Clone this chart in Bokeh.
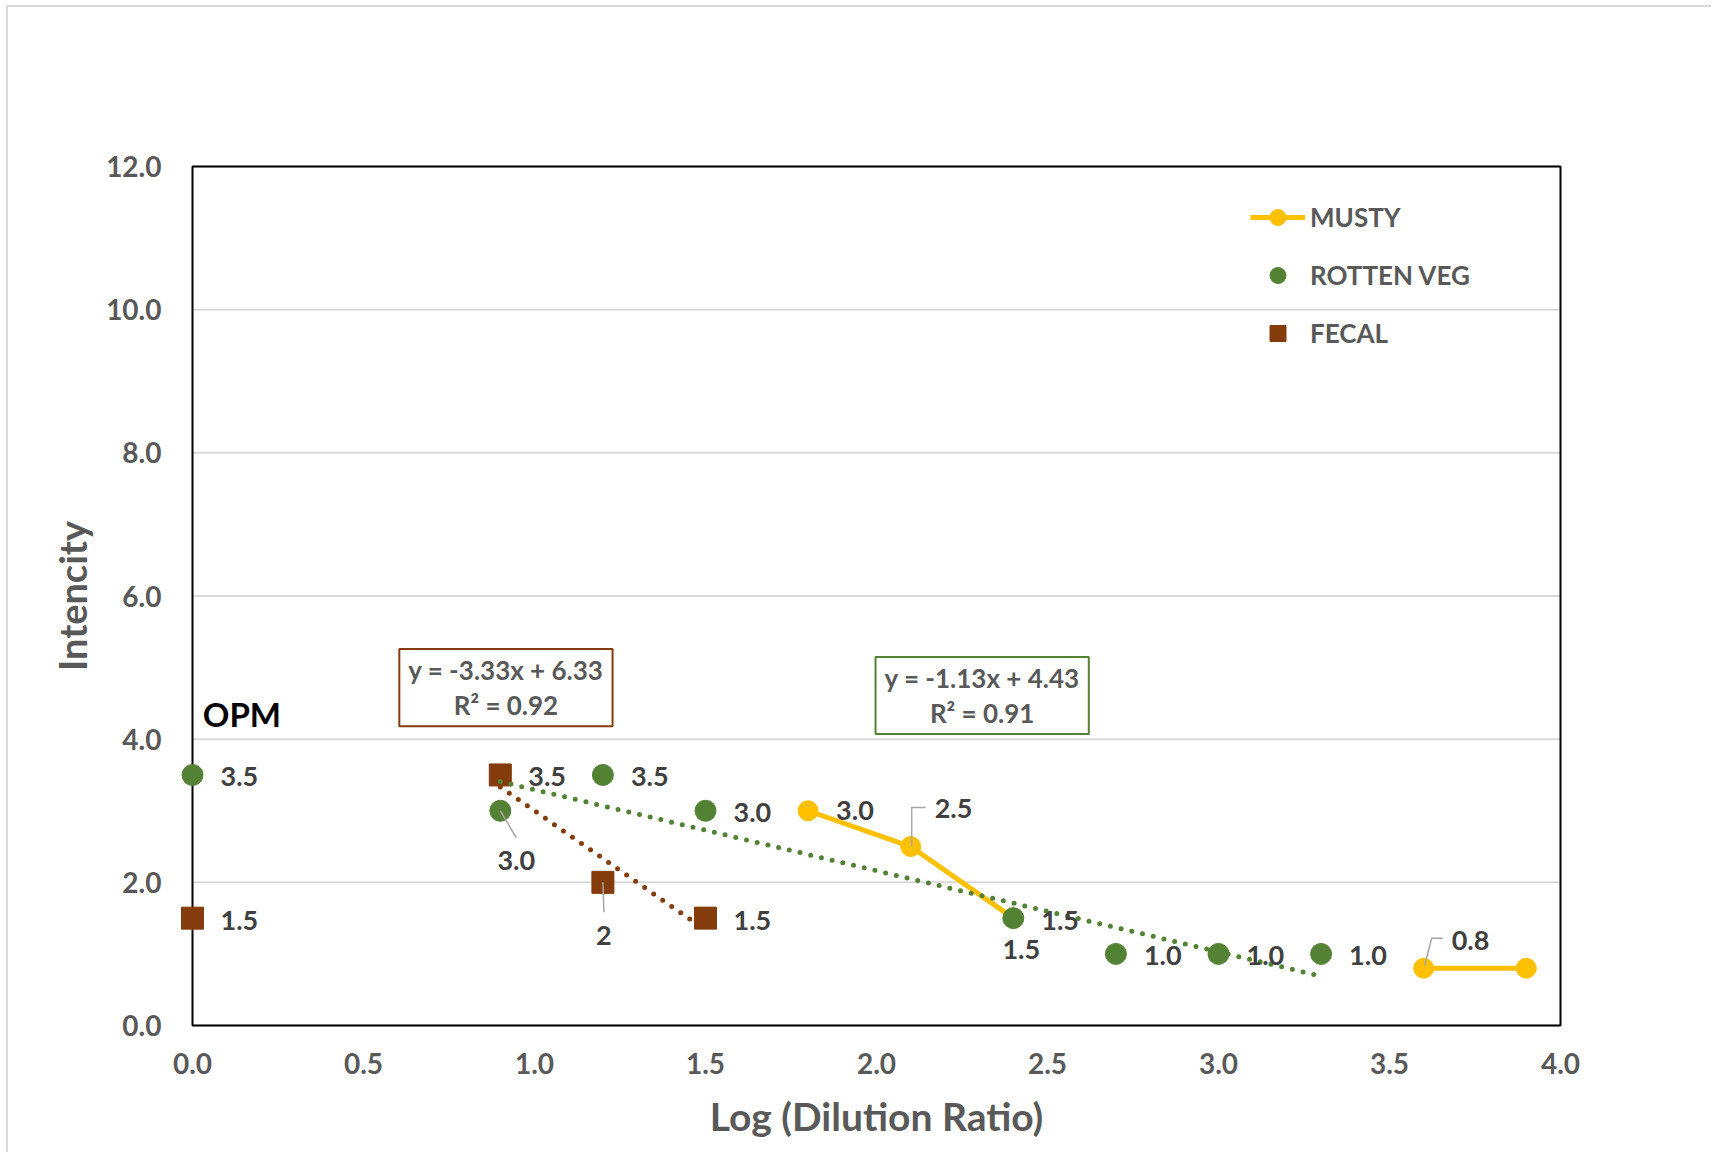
import numpy as np
from bokeh.plotting import figure
from bokeh.models import (Range1d, Legend, LegendItem, Label, ColumnDataSource,
                          FixedTicker, NumeralTickFormatter)
from bokeh.core.properties import value
from bokeh.embed import file_html
from bokeh.resources import INLINE

# ---------------- data ----------------
x_ticks = [0.0, 0.5, 1.0, 1.5, 2.0, 2.5, 3.0, 3.5, 4.0]
y_ticks = [0.0, 2.0, 4.0, 6.0, 8.0, 10.0, 12.0]

musty_x = [1.8, 2.1, 2.4, np.nan, 3.6, 3.9]
musty_y = [3.0, 2.5, 1.5, np.nan, 0.8, 0.8]
musty_labels = ["3.0", "2.5", "1.5", "", "0.8", ""]

rotten_x = [0.0, 0.9, 1.2, 1.5, 2.4, 2.7, 3.0, 3.3]
rotten_y = [3.5, 3.0, 3.5, 3.0, 1.5, 1.0, 1.0, 1.0]
rotten_labels = ["3.5", "3.0", "3.5", "3.0", "1.5", "1.0", "1.0", "1.0"]

fecal_x = [0.0, 0.9, 1.2, 1.5]
fecal_y = [1.5, 3.5, 2.0, 1.5]
fecal_labels = ["1.5", "3.5", "2", "1.5"]

series_names = ["MUSTY", "ROTTEN VEG", "FECAL"]
axis_x_title = "Log (Dilution Ratio)"
axis_y_title = "Intencity"
note_text = "OPM"

# ---------------- style ----------------
GOLD = "#FFC000"
GREEN = "#548235"
BROWN = "#843C0C"
GRAY_TXT = "#595959"
LBL_TXT = "#404040"
FONT = "Lato"

W, H = 1705, 1147
ML, MT, MR, MB = 184, 159, 153, 129      # edges of the drawn chart box
FW, FH = W - ML - MR, H - MT - MB
XR, YR = (0, 4), (0, 12)
PX_X = FW / (XR[1] - XR[0])
PX_Y = FH / (YR[1] - YR[0])
PADX, PADY = 15, 2                        # extra frame so edge markers are not clipped

p = figure(width=W, height=H, output_backend="svg", toolbar_location=None,
           x_range=Range1d(XR[0] - PADX / PX_X, XR[1] + PADX / PX_X),
           y_range=Range1d(YR[0] - PADY / PX_Y, YR[1] + PADY / PX_Y),
           min_border_left=ML - PADX, min_border_right=MR - PADX,
           min_border_top=MT - PADY, min_border_bottom=MB - PADY,
           background_fill_color="white", border_fill_color="white")
p.styles = {"margin-left": "6px", "margin-top": "5px",
            "border-left": "2px solid #d9d9d9", "border-top": "2px solid #d9d9d9"}

p.outline_line_color = None
p.xgrid.visible = False
p.ygrid.visible = False

for ax, ticks in ((p.xaxis[0], x_ticks), (p.yaxis[0], y_ticks)):
    ax.ticker = FixedTicker(ticks=ticks)
    ax.formatter = NumeralTickFormatter(format="0.0")
    ax.major_tick_line_color = None
    ax.minor_tick_line_color = None
    ax.axis_line_color = None
    ax.major_label_text_font = FONT
    ax.major_label_text_font_style = "bold"
    ax.major_label_text_color = GRAY_TXT
    ax.major_label_text_font_size = "28px"
    ax.axis_label_text_font = FONT
    ax.axis_label_text_font_style = "bold"
    ax.axis_label_text_color = GRAY_TXT

p.xaxis.axis_label = axis_x_title
p.xaxis.axis_label_text_font_size = "39px"
p.xaxis.major_label_standoff = 21 - PADY
p.xaxis.axis_label_standoff = 16
p.yaxis.axis_label = axis_y_title
p.yaxis.axis_label_text_font_size = "38px"
p.yaxis.major_label_standoff = 25 - PADX
p.yaxis.axis_label_standoff = 8

# horizontal gridlines restricted to the chart box
p.segment(x0=[XR[0]] * len(y_ticks), x1=[XR[1]] * len(y_ticks), y0=y_ticks, y1=y_ticks,
          line_color="#d9d9d9", line_width=2)

# chart box
p.quad(left=[XR[0]], right=[XR[1]], bottom=[YR[0]], top=[YR[1]],
       fill_color=None, line_color="black", line_width=2)

# ---------------- series ----------------
m_line = p.line(musty_x, musty_y, line_color=GOLD, line_width=5)
m_pts = p.scatter(musty_x, musty_y, marker="circle", size=20, fill_color=GOLD, line_color=GOLD)
r_pts = p.scatter(rotten_x, rotten_y, marker="circle", size=21, fill_color=GREEN, line_color=GREEN)
f_pts = p.scatter(fecal_x, fecal_y, marker="square", size=22, fill_color=BROWN, line_color=BROWN)

# ---------------- trendlines ----------------
def trend(xs, ys):
    xs = np.asarray(xs[1:], dtype=float)
    ys = np.asarray(ys[1:], dtype=float)
    m, b = np.polyfit(xs, ys, 1)
    r2 = 1 - np.sum((ys - (m * xs + b)) ** 2) / np.sum((ys - ys.mean()) ** 2)
    xx = np.array([xs.min(), xs.max()])
    return xx, m * xx + b, m, b, r2

fx, fy, fm, fb, fr2 = trend(fecal_x, fecal_y)
rx, ry, rm, rb, rr2 = trend(rotten_x, rotten_y)
p.line(fx, fy, line_color=BROWN, line_width=5, line_dash="0 11", line_cap="round")
p.line(rx, ry, line_color=GREEN, line_width=5, line_dash="0 11", line_cap="round")

def eq_text(m, b, r2):
    sign = "+" if b >= 0 else "-"
    return f"y = {m:.2f}x {sign} {abs(b):.2f}\nR\u00b2 = {r2:.2f}"

eq_style = dict(text_font=FONT, text_font_style="bold", text_font_size="26px",
                text_color=GRAY_TXT, text_align="center", text_baseline="middle",
                background_fill_color="white", border_line_width=2,
                padding=dict(left=9, right=9, top=5, bottom=5),
                text_line_height=1.1)
p.add_layout(Label(x=0.9165, y=4.72, text=eq_text(fm, fb, fr2), border_line_color=BROWN, **eq_style))
p.add_layout(Label(x=2.309, y=4.61, text=eq_text(rm, rb, rr2), border_line_color=GREEN, **eq_style))

p.add_layout(Label(x=0.03, y=4.355, text=note_text, text_font=FONT, text_font_style="bold",
                   text_font_size="33px", text_color="black", text_baseline="middle"))

# ---------------- data labels ----------------
# per-point label placement: (dx px, dy px, mode) ; mode 'r' right, 'c' centered
place = {
    "musty": [(28, 0, "r"), (24, -38, "r"), (28, 2, "r"), None, (28, -28, "r"), None],
    "rotten": [(28, 2, "r"), (16, 50, "c"), (28, 2, "r"), (28, 2, "r"), (8, 31, "c"),
               (28, 2, "r"), (28, 2, "r"), (28, 2, "r")],
    "fecal": [(28, 2, "r"), (28, 2, "r"), (1, 53, "c"), (28, 2, "r")],
}
leaders = {  # polyline offsets in px (dx, dy_down) from the point
    ("rotten", 1): [(0, 0), (16, 27)],
    ("fecal", 2): [(0, 0), (1, 30)],
    ("musty", 1): [(1, 0), (1, -39), (15, -39)],
    ("musty", 4): [(1, -3), (8, -30), (19, -30)],
}
lbl_style = dict(text_font=value(FONT), text_font_style="bold", text_font_size="27px",
                 text_color=LBL_TXT, text_baseline="middle")

rows = {"r": dict(x=[], y=[], t=[], dx=[], dy=[]), "c": dict(x=[], y=[], t=[], dx=[], dy=[])}
for key, xs, ys, ls in (("musty", musty_x, musty_y, musty_labels),
                        ("rotten", rotten_x, rotten_y, rotten_labels),
                        ("fecal", fecal_x, fecal_y, fecal_labels)):
    for i, (xv, yv, t) in enumerate(zip(xs, ys, ls)):
        pl = place[key][i]
        if pl is None or not t:
            continue
        dx, dy, mode = pl
        r = rows[mode]
        r["x"].append(xv); r["y"].append(yv); r["t"].append(t)
        r["dx"].append(dx); r["dy"].append(dy)

for mode, align in (("r", "left"), ("c", "center")):
    src = ColumnDataSource(rows[mode])
    p.text(x="x", y="y", text="t", x_offset="dx", y_offset="dy", source=src,
           text_align=align, **lbl_style)

lx, ly = [], []
series_xy = {"musty": (musty_x, musty_y), "rotten": (rotten_x, rotten_y), "fecal": (fecal_x, fecal_y)}
for (key, i), pts in leaders.items():
    x0, y0 = series_xy[key][0][i], series_xy[key][1][i]
    lx.append([x0 + dx / PX_X for dx, dy in pts])
    ly.append([y0 - dy / PX_Y for dx, dy in pts])
p.multi_line(lx, ly, line_color="#a6a6a6", line_width=1.5)

# ---------------- legend ----------------
legend = Legend(items=[LegendItem(label=series_names[0], renderers=[m_line, m_pts]),
                       LegendItem(label=series_names[1], renderers=[r_pts]),
                       LegendItem(label=series_names[2], renderers=[f_pts])],
                location=(1058 + PADX, 672 + PADY), orientation="vertical",
                glyph_width=55, glyph_height=40, label_standoff=5, spacing=18,
                padding=10, margin=0, border_line_color=None, background_fill_alpha=0,
                label_text_font=FONT, label_text_font_style="bold",
                label_text_font_size="26px", label_text_color=GRAY_TXT)
p.add_layout(legend)

open("out.html", "w").write(file_html(p, INLINE))
